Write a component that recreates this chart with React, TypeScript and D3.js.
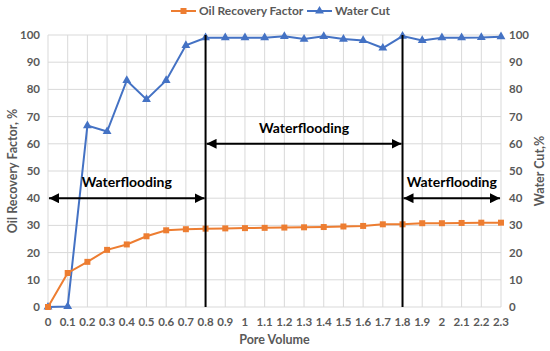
import React, { useRef, useEffect } from "react";
import * as d3 from "d3";

const poreVolume = [0, 0.1, 0.2, 0.3, 0.4, 0.5, 0.6, 0.7, 0.8, 0.9, 1, 1.1, 1.2, 1.3, 1.4, 1.5, 1.6, 1.7, 1.8, 1.9, 2, 2.1, 2.2, 2.3];
const oilRecovery = [0, 12.5, 16.6, 21, 23, 26, 28.2, 28.6, 28.8, 28.9, 29, 29.1, 29.2, 29.3, 29.4, 29.6, 29.8, 30.4, 30.4, 30.8, 30.8, 30.9, 31, 31];
const waterCut = [0, 0.2, 66.7, 64.5, 83.3, 76.3, 83.3, 96.2, 99, 99, 99, 99, 99.5, 98.5, 99.5, 98.5, 98, 95.2, 99.6, 98, 99, 99, 99.1, 99.4];
const yTicks = [0, 10, 20, 30, 40, 50, 60, 70, 80, 90, 100];
// stages: [start, end, level], divider lines at 0.8 and 1.8
const stages = [
  { from: 0, to: 0.8, level: 40, label: "Waterflooding" },
  { from: 0.8, to: 1.8, level: 60, label: "Waterflooding" },
  { from: 1.8, to: 2.3, level: 40, label: "Waterflooding" },
];
const dividers = [0.8, 1.8];

const ORANGE = "#ED7D31";
const BLUE = "#4472C4";
const GREY = "#595959";
const FONT = "Lato, 'Open Sans', sans-serif";

const App: React.FC = () => {
  const ref = useRef<SVGSVGElement | null>(null);

  useEffect(() => {
    const svg = d3.select(ref.current);
    svg.selectAll("*").remove();

    const W = 550, H = 351;
    const margin = { top: 35, right: 49, bottom: 44, left: 48 };
    const width = W - margin.left - margin.right;
    const height = H - margin.top - margin.bottom;

    svg.attr("width", W).attr("height", H).style("font-family", FONT);

    const defs = svg.append("defs");
    ["start", "end"].forEach((k) => {
      defs
        .append("marker")
        .attr("id", "arrow-" + k)
        .attr("viewBox", "0 0 10 10")
        .attr("refX", k === "end" ? 10 : 0)
        .attr("refY", 5)
        .attr("markerWidth", 5)
        .attr("markerHeight", 5)
        .attr("markerUnits", "strokeWidth")
        .attr("orient", "auto")
        .append("path")
        .attr("d", k === "end" ? "M0,0 L10,5 L0,10 Z" : "M10,0 L0,5 L10,10 Z")
        .attr("fill", "#000");
    });

    const x = d3.scaleLinear().domain([0, 2.3]).range([0, width]);
    const y = d3.scaleLinear().domain([0, 100]).range([height, 0]);

    const g = svg.append("g").attr("transform", `translate(${margin.left},${margin.top})`);

    // gridlines
    g.append("g")
      .selectAll("line")
      .data(poreVolume)
      .join("line")
      .attr("x1", (d) => x(d))
      .attr("x2", (d) => x(d))
      .attr("y1", 0)
      .attr("y2", height)
      .attr("stroke", "#D9D9D9")
      .attr("stroke-width", 1);
    g.append("g")
      .selectAll("line")
      .data(yTicks)
      .join("line")
      .attr("x1", 0)
      .attr("x2", width)
      .attr("y1", (d) => y(d))
      .attr("y2", (d) => y(d))
      .attr("stroke", "#D9D9D9")
      .attr("stroke-width", 1);

    // tick labels
    const tickStyle = (sel: any) =>
      sel.attr("fill", GREY).style("font-size", "11.5px").style("font-weight", "bold");

    g.append("g")
      .selectAll("text")
      .data(poreVolume)
      .join("text")
      .attr("x", (d) => x(d))
      .attr("y", height + 19)
      .attr("text-anchor", "middle")
      .text((d) => d3.format("")(+d.toFixed(1)))
      .call(tickStyle);
    g.append("g")
      .selectAll("text")
      .data(yTicks)
      .join("text")
      .attr("x", -8)
      .attr("y", (d) => y(d))
      .attr("dy", "0.35em")
      .attr("text-anchor", "end")
      .text((d) => d)
      .call(tickStyle);
    g.append("g")
      .selectAll("text")
      .data(yTicks)
      .join("text")
      .attr("x", width + 8)
      .attr("y", (d) => y(d))
      .attr("dy", "0.35em")
      .attr("text-anchor", "start")
      .text((d) => d)
      .call(tickStyle);

    // axis titles
    const titleStyle = (sel: any) =>
      sel.attr("fill", GREY).style("font-size", "12.5px").style("font-weight", "bold");
    svg.append("text")
      .attr("x", margin.left + width / 2)
      .attr("y", H - 7)
      .attr("text-anchor", "middle")
      .text("Pore Volume")
      .call(titleStyle);
    svg.append("text")
      .attr("transform", `translate(17,${margin.top + height / 2}) rotate(-90)`)
      .attr("text-anchor", "middle")
      .text("Oil Recovery Factor, %")
      .call(titleStyle);
    svg.append("text")
      .attr("transform", `translate(544,${margin.top + height / 2}) rotate(-90)`)
      .attr("text-anchor", "middle")
      .text("Water Cut,%")
      .call(titleStyle);

    // series
    const line = d3
      .line<number>()
      .x((_, i) => x(poreVolume[i]))
      .y((d) => y(d));

    const sq = d3.symbol().type(d3.symbolSquare).size(36);
    const tri = d3.symbol().type(d3.symbolTriangle).size(34);

    g.append("path")
      .datum(waterCut)
      .attr("fill", "none")
      .attr("stroke", BLUE)
      .attr("stroke-width", 2)
      .attr("d", line);
    g.append("g")
      .selectAll("path")
      .data(waterCut)
      .join("path")
      .attr("transform", (d, i) => `translate(${x(poreVolume[i])},${y(d)})`)
      .attr("d", tri()!)
      .attr("fill", BLUE);

    g.append("path")
      .datum(oilRecovery)
      .attr("fill", "none")
      .attr("stroke", ORANGE)
      .attr("stroke-width", 2)
      .attr("d", line);
    g.append("g")
      .selectAll("path")
      .data(oilRecovery)
      .join("path")
      .attr("transform", (d, i) => `translate(${x(poreVolume[i])},${y(d)})`)
      .attr("d", sq()!)
      .attr("fill", ORANGE);

    // stage dividers
    g.append("g")
      .selectAll("line")
      .data(dividers)
      .join("line")
      .attr("x1", (d) => x(d))
      .attr("x2", (d) => x(d))
      .attr("y1", y(100))
      .attr("y2", y(0))
      .attr("stroke", "#000")
      .attr("stroke-width", 2);

    // stage arrows + labels
    const st = g.append("g").selectAll("g").data(stages).join("g");
    st.append("line")
      .attr("x1", (d) => x(d.from) + 1)
      .attr("x2", (d) => x(d.to) - 1)
      .attr("y1", (d) => y(d.level))
      .attr("y2", (d) => y(d.level))
      .attr("stroke", "#000")
      .attr("stroke-width", 2)
      .attr("marker-start", "url(#arrow-start)")
      .attr("marker-end", "url(#arrow-end)");
    st.append("text")
      .attr("x", (d) => x((d.from + d.to) / 2))
      .attr("y", (d) => y(d.level) - 11)
      .attr("text-anchor", "middle")
      .attr("fill", "#000")
      .style("font-size", "14px")
      .style("font-weight", "bold")
      .text((d) => d.label);

    // legend
    const legend = svg.append("g").attr("transform", "translate(0,11)");
    const items = [
      { label: "Oil Recovery Factor", color: ORANGE, sym: sq, x0: 171 },
      { label: "Water Cut", color: BLUE, sym: tri, x0: 307 },
    ];
    items.forEach((it) => {
      legend.append("line")
        .attr("x1", it.x0)
        .attr("x2", it.x0 + 25)
        .attr("stroke", it.color)
        .attr("stroke-width", 2);
      legend.append("path")
        .attr("transform", `translate(${it.x0 + 12.5},0)`)
        .attr("d", it.sym()!)
        .attr("fill", it.color);
      legend.append("text")
        .attr("x", it.x0 + 28)
        .attr("dy", "0.35em")
        .text(it.label)
        .call(titleStyle)
        .style("font-size", "12px");
    });
  }, []);

  return (
    <svg
      ref={ref}
      style={{ display: "block", position: "absolute", left: 0, top: 0 }}
    />
  );
};

export default App;
